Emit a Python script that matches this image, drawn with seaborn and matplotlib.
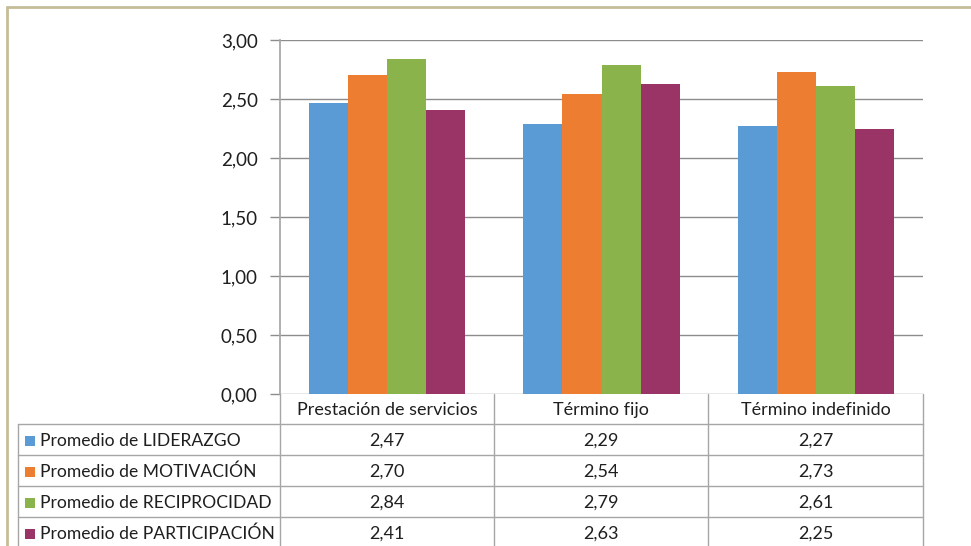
import numpy as np
import pandas as pd
import matplotlib
matplotlib.use('Agg')
import matplotlib.pyplot as plt
import seaborn as sns
from matplotlib.patches import Rectangle

categorias = ['Prestación de servicios', 'Término fijo', 'Término indefinido']
series = ['Promedio de LIDERAZGO', 'Promedio de MOTIVACIÓN',
          'Promedio de RECIPROCIDAD', 'Promedio de PARTICIPACIÓN']
liderazgo = [2.47, 2.29, 2.27]
motivacion = [2.70, 2.54, 2.73]
reciprocidad = [2.84, 2.79, 2.61]
participacion = [2.41, 2.63, 2.25]
colores = ['#5B9BD5', '#ED7D31', '#8AB34C', '#9A3366']
yticks = [0, 0.5, 1.0, 1.5, 2.0, 2.5, 3.0]

valores = [liderazgo, motivacion, reciprocidad, participacion]
df = pd.DataFrame({
    'categoria': categorias * len(series),
    'serie': [s for s in series for _ in categorias],
    'valor': [v for fila in valores for v in fila],
})

sns.set_theme(style='white')
plt.rcParams['font.family'] = ['Lato', 'DejaVu Sans']
texto = '#1F1F1F'
gris = '#8C8C8C'
fs = 13

W, H = 971, 546
fig = plt.figure(figsize=(W / 100, H / 100), dpi=100)

# area del grafico en pixeles
x0, x1, ytop, ybot = 280, 923, 40, 394
ax = fig.add_axes([x0 / W, 1 - ybot / H, (x1 - x0) / W, (ybot - ytop) / H])
sns.barplot(data=df, x='categoria', y='valor', hue='serie', palette=colores,
            width=0.73, gap=0, edgecolor='none', saturation=1, ax=ax, legend=False)
ax.set_ylim(0, 3.0)
ax.set_xlim(-0.5, 2.5)
ax.set_yticks(yticks)
ax.set_yticklabels([f'{t:.2f}'.replace('.', ',') for t in yticks], fontsize=13.5, color=texto)
ax.set_xticks([])
ax.set_xlabel('')
ax.set_ylabel('')
ax.yaxis.grid(True, color=gris, linewidth=1)
ax.set_axisbelow(True)
for s in ['top', 'right', 'bottom']:
    ax.spines[s].set_visible(False)
ax.spines['left'].set_color('#A6A6A6')
ax.tick_params(axis='y', which='major', left=True, length=7, width=1, color=gris, pad=9)

# tabla de datos
tab = fig.add_axes([0, 0, 1, 1], zorder=-1)
tab.set_xlim(0, W)
tab.set_ylim(H, 0)
tab.axis('off')
cols = [x0, 494, 708, x1]
rows = [394, 424, 455, 486, 517, 548]
tx0 = 18
lc = '#A6A6A6'
for xc in cols:
    tab.plot([xc, xc], [rows[0], H], color=lc, lw=1)
tab.plot([tx0, tx0], [rows[1], H], color=lc, lw=1)
for yr in rows[1:]:
    tab.plot([tx0, x1], [yr, yr], color=lc, lw=1)
for j, cat in enumerate(categorias):
    tab.text((cols[j] + cols[j + 1]) / 2, (rows[0] + rows[1]) / 2 + 1, cat,
             ha='center', va='center', fontsize=fs, color=texto)
for i, (nombre, fila) in enumerate(zip(series, valores)):
    ym = (rows[i + 1] + rows[i + 2]) / 2 + 1
    tab.add_patch(Rectangle((25, ym - 5), 10, 10, color=colores[i], lw=0))
    tab.text(40, ym, nombre, ha='left', va='center', fontsize=12.6, color=texto)
    for j, v in enumerate(fila):
        tab.text((cols[j] + cols[j + 1]) / 2, ym, f'{v:.2f}'.replace('.', ','),
                 ha='center', va='center', fontsize=fs, color=texto)

# borde del marco
tab.plot([7, 7], [7, H], color='#C4BD97', lw=2)
tab.plot([7, W], [7, 7], color='#C4BD97', lw=2)

fig.savefig('out.png', dpi=100, facecolor='white')
